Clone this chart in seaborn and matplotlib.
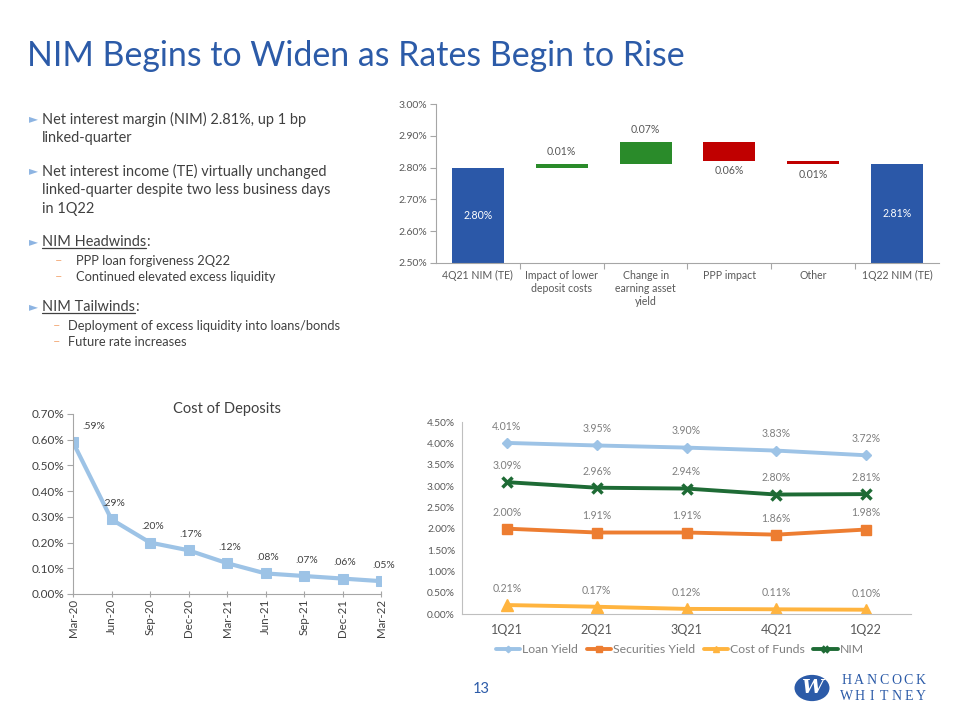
import matplotlib
matplotlib.use("Agg")
import matplotlib.pyplot as plt
import seaborn as sns
import pandas as pd
from matplotlib.lines import Line2D
from matplotlib.patches import Circle
from matplotlib.ticker import FuncFormatter, MultipleLocator

sns.set_theme(style="white")
plt.rcParams['font.family'] = ['Lato', 'DejaVu Sans']

# ---------------- data ----------------
wf_categories = ["4Q21 NIM (TE)", "Impact of lower\ndeposit costs", "Change in\nearning asset\nyield",
                 "PPP impact", "Other", "1Q22 NIM (TE)"]
wf_values = [2.80, 0.01, 0.07, -0.06, -0.01, 2.81]
wf_is_total = [True, False, False, False, False, True]
wf_labels = ["2.80%", "0.01%", "0.07%", "0.06%", "0.01%", "2.81%"]

dep_dates = ["Mar-20", "Jun-20", "Sep-20", "Dec-20", "Mar-21", "Jun-21", "Sep-21", "Dec-21", "Mar-22"]
dep_values = [0.59, 0.29, 0.20, 0.17, 0.12, 0.08, 0.07, 0.06, 0.05]
dep_labels = [".59%", ".29%", ".20%", ".17%", ".12%", ".08%", ".07%", ".06%", ".05%"]

quarters = ["1Q21", "2Q21", "3Q21", "4Q21", "1Q22"]
loan_yield = [4.01, 3.95, 3.90, 3.83, 3.72]
securities_yield = [2.00, 1.91, 1.91, 1.86, 1.98]
cost_of_funds = [0.21, 0.17, 0.12, 0.11, 0.10]
nim = [3.09, 2.96, 2.94, 2.80, 2.81]
series_names = ["Loan Yield", "Securities Yield", "Cost of Funds", "NIM"]

# ---------------- styling ----------------
BLUE = "#2C5BA8"
TXT = "#404040"
GRAY_TXT = "#595959"
AXIS = "#A6A6A6"
pct2 = FuncFormatter(lambda v, _: f"{v:.2f}%")

W, H = 960, 720
def fx(px): return px / W
def fy(py): return 1 - py / H

fig = plt.figure(figsize=(9.6, 7.2), dpi=100)
fig.patch.set_facecolor("white")

# ---------------- title ----------------
fig.text(fx(27), fy(56), "NIM Begins to Widen as Rates Begin to Rise", fontsize=24.4,
         color=BLUE, va="center", ha="left")

# ---------------- bullets ----------------
bul_color = "#8DB4E2"
dash_color = "#F4B183"
fs_main = 10.45
fs_sub = 9.3

def bullet(y):
    fig.text(fx(29), fy(y), "►", fontsize=8.5, color=bul_color, va="center", ha="left",
             family=["DejaVu Sans"])

def line(x, y, s, fs=fs_main):
    return fig.text(fx(x), fy(y), s, fontsize=fs, color=TXT, va="center", ha="left")

bullet(119)
line(42, 119, "Net interest margin (NIM) 2.81%, up 1 bp")
line(42, 138, "linked-quarter")
bullet(171)
line(42, 171, "Net interest income (TE) virtually unchanged")
line(42, 190, "linked-quarter despite two less business days")
line(42, 209, "in 1Q22")

renderer = fig.canvas.get_renderer()

def underlined(x, y, s):
    t = line(x, y, s)
    bb = t.get_window_extent(renderer=renderer)
    fig.text(bb.x1 / W, fy(y), ":", fontsize=fs_main, color=TXT, va="center", ha="left")
    yl = (bb.y0 + 1.5) / H
    fig.add_artist(Line2D([bb.x0 / W, bb.x1 / W], [yl, yl], transform=fig.transFigure,
                          color=TXT, lw=0.9))

bullet(242)
underlined(42, 242, "NIM Headwinds")
fig.text(fx(55), fy(261), "–", fontsize=fs_sub, color=dash_color, va="center")
line(76, 261, "PPP loan forgiveness 2Q22", fs_sub)
fig.text(fx(55), fy(277), "–", fontsize=fs_sub, color=dash_color, va="center")
line(76, 277, "Continued elevated excess liquidity", fs_sub)
bullet(307)
underlined(42, 307, "NIM Tailwinds")
fig.text(fx(53), fy(326), "–", fontsize=fs_sub, color=dash_color, va="center")
line(68, 326, "Deployment of excess liquidity into loans/bonds", fs_sub)
fig.text(fx(53), fy(342), "–", fontsize=fs_sub, color=dash_color, va="center")
line(68, 342, "Future rate increases", fs_sub)

# ---------------- waterfall ----------------
ax1 = fig.add_axes([fx(436), fy(263), fx(939) - fx(436), (263 - 104) / H])
bases, heights, colors = [], [], []
running = 0.0
for v, tot in zip(wf_values, wf_is_total):
    if tot:
        bases.append(0.0); heights.append(v); colors.append("#2B58A8")
        running = v
    else:
        start, end = running, running + v
        bases.append(min(start, end)); heights.append(abs(v))
        colors.append("#2A8B2A" if v > 0 else "#C00000")
        running = end
wf_df = pd.DataFrame({"cat": wf_categories, "h": heights})
sns.barplot(data=wf_df, x="cat", y="h", hue="cat", palette=colors, legend=False,
            width=0.62, saturation=1, linewidth=0, ax=ax1)
for patch, b in zip(ax1.patches, bases):
    patch.set_y(b)
ax1.set_ylim(2.5, 3.0)
ax1.set_xlim(-0.5, len(wf_categories) - 0.5)
ax1.yaxis.set_major_locator(MultipleLocator(0.1))
ax1.yaxis.set_major_formatter(pct2)
ax1.set_xlabel(""); ax1.set_ylabel("")
for s in ["top", "right"]:
    ax1.spines[s].set_visible(False)
for s in ["left", "bottom"]:
    ax1.spines[s].set_color(AXIS); ax1.spines[s].set_linewidth(0.8)
ax1.tick_params(axis="y", which="major", length=4, width=0.8, color=AXIS, labelsize=7.5,
                labelcolor=GRAY_TXT, pad=2, left=True)
ax1.set_xticks(range(len(wf_categories)))
ax1.set_xticks([i + 0.5 for i in range(len(wf_categories) - 1)], minor=True)
ax1.tick_params(axis="x", which="major", length=0, labelsize=7.6, labelcolor=GRAY_TXT, pad=5)
ax1.tick_params(axis="x", which="minor", length=4, width=0.8, color=AXIS, bottom=True)
for i, (lab, b, h, tot, v) in enumerate(zip(wf_labels, bases, heights, wf_is_total, wf_values)):
    if tot:
        ax1.text(i, (2.5 + b + h) / 2, lab, ha="center", va="center", color="white", fontsize=7.6)
    elif v > 0:
        ax1.annotate(lab, (i, b + h), xytext=(0, 5), textcoords="offset points",
                     ha="center", va="bottom", color=GRAY_TXT, fontsize=7.6)
    else:
        ax1.annotate(lab, (i, b), xytext=(0, -3), textcoords="offset points",
                     ha="center", va="top", color=GRAY_TXT, fontsize=7.6)

# ---------------- cost of deposits ----------------
ax2 = fig.add_axes([fx(73), fy(594), fx(381) - fx(73), (594 - 414) / H])
dep_df = pd.DataFrame({"date": dep_dates, "v": dep_values})
sns.lineplot(data=dep_df, x="date", y="v", sort=False, color="#9DC3E6", lw=3,
             marker="s", markersize=7, markeredgecolor="#9DC3E6", ax=ax2)
ax2.set_xlim(0, len(dep_dates) - 1)
ax2.set_ylim(0, 0.70)
ax2.yaxis.set_major_locator(MultipleLocator(0.1))
ax2.yaxis.set_major_formatter(pct2)
ax2.set_xlabel(""); ax2.set_ylabel("")
for s in ["top", "right"]:
    ax2.spines[s].set_visible(False)
for s in ["left", "bottom"]:
    ax2.spines[s].set_color(AXIS); ax2.spines[s].set_linewidth(0.8)
ax2.tick_params(axis="y", length=4, width=0.8, color=AXIS, labelsize=8.5, labelcolor=TXT,
                left=True, pad=2)
ax2.tick_params(axis="x", length=5, width=0.8, color=AXIS, labelsize=8.3, labelcolor=TXT,
                bottom=True, rotation=90, pad=1, direction="inout")
for i, (v, lab) in enumerate(zip(dep_values, dep_labels)):
    off = (15, 8) if i == 0 else (2, 8)
    ax2.annotate(lab, (i, v), xytext=off, textcoords="offset points", ha="center",
                 va="bottom", fontsize=7.5, color=TXT)
ax2.set_title("Cost of Deposits", fontsize=10.5, color=TXT, pad=1)

# ---------------- yields chart ----------------
ax3 = fig.add_axes([fx(462), fy(614), fx(911) - fx(462), (614 - 422) / H])
series = [
    ("Loan Yield", loan_yield, "#9DC3E6", "D", 5.5, 1),
    ("Securities Yield", securities_yield, "#ED7D31", "s", 7.5, 1),
    ("Cost of Funds", cost_of_funds, "#FFB43F", "^", 8, 1),
    ("NIM", nim, "#1E6B35", "x", 7, 2.5),
]
for name, vals, col, mk, ms, mew in series:
    sns.lineplot(x=quarters, y=vals, sort=False, color=col, lw=2.8, marker=mk,
                 markersize=ms, markeredgecolor=col, markeredgewidth=mew, label=name, ax=ax3)
    for i, v in enumerate(vals):
        ax3.annotate(f"{v:.2f}%", (i, v), xytext=(0, 8), textcoords="offset points",
                     ha="center", va="bottom", fontsize=7.6, color="#7F7F7F")
ax3.set_xlim(-0.5, len(quarters) - 0.5)
ax3.set_ylim(0, 4.5)
ax3.yaxis.set_major_locator(MultipleLocator(0.5))
ax3.yaxis.set_major_formatter(pct2)
ax3.set_xlabel(""); ax3.set_ylabel("")
for s in ["top", "right"]:
    ax3.spines[s].set_visible(False)
for s in ["left", "bottom"]:
    ax3.spines[s].set_color("#BFBFBF"); ax3.spines[s].set_linewidth(0.8)
ax3.tick_params(axis="y", length=0, labelsize=7.3, labelcolor=GRAY_TXT, pad=5)
ax3.tick_params(axis="x", length=0, labelsize=9, labelcolor=GRAY_TXT, pad=7)
leg = ax3.legend(loc="upper center", bbox_to_anchor=(0.485, -0.1), ncol=4, frameon=False,
                 fontsize=8.8, handlelength=2.0, handletextpad=0.15, columnspacing=0.7,
                 markerscale=0.6, labelcolor="#7F7F7F")

# ---------------- footer ----------------
fig.text(fx(481), fy(689), "13", fontsize=10.5, color=BLUE, ha="center", va="center")
fig.add_artist(Circle((fx(812), fy(688)), 17.5 / W, transform=fig.transFigure,
                      facecolor=BLUE, edgecolor="none"))
fig.text(fx(812), fy(688), "W", fontsize=14, color="white", ha="center", va="center",
         fontweight="bold", style="italic", family=["DejaVu Serif"])
for row_y, word in [(680, "HANCOCK"), (697, "WHITNEY")]:
    for k, ch in enumerate(word):
        fig.text(fx(847 + k * 12.3), fy(row_y), ch, fontsize=10, color=BLUE, ha="center",
                 va="center", family=["Liberation Serif"])

fig.savefig("out.png", dpi=100, facecolor="white")
